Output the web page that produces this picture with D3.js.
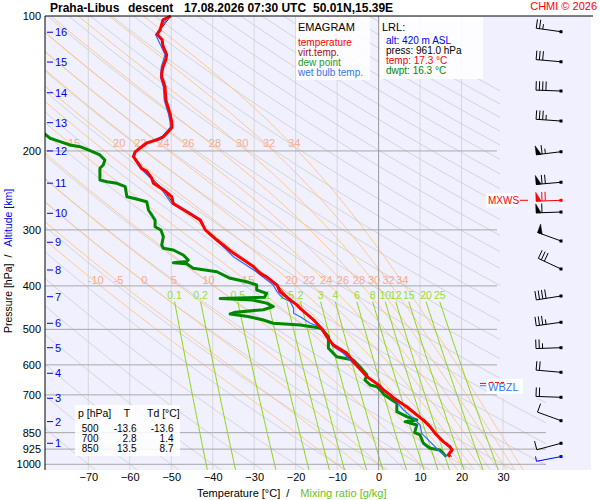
<!DOCTYPE html>
<html>
<head>
<meta charset="utf-8">
<script src="https://cdn.jsdelivr.net/npm/d3@7"></script>
<style>
body { margin: 0; background: #fff; }
svg { display: block; font-family: "Liberation Sans", Arial, sans-serif; }
</style>
</head>
<body>
<div id="vis"></div>
<script>
// ---- data ----
const pressureTicks = [100, 200, 300, 400, 500, 600, 700, 850, 925, 1000];
const tempTicks = [-70, -60, -50, -40, -30, -20, -10, 0, 10, 20, 30];
const altKm = [1, 2, 3, 4, 5, 6, 7, 8, 9, 10, 11, 12, 13, 14, 15, 16];
const altP = [897.7, 803, 712.4, 626.6, 549.4, 484.7, 422.8, 368.6, 319.7, 275.5, 236, 200, 173, 148.3, 126.7, 108.7];
const mixRatios = [0.1, 0.2, 0.5, 1, 1.5, 2, 3, 4, 6, 8, 10, 12, 15, 20, 25];
const thetaWLines = [-10, -5, 0, 5, 10, 15, 18, 20, 22, 24, 26, 28, 30, 32, 34];
const thetaWLower = [-10, -5, 0, 5, 10, 15, 20, 22, 24, 26, 28, 30, 32, 34];
const thetaWUpper = [15, 20, 22, 24, 26, 28, 30, 32, 34];

// [pressure hPa, value °C]
const temperature = [[100,-50.1],[102,-52.0],[107.5,-52.7],[110,-53.4],[113,-52.2],[117,-52.0],[119,-51.6],[122,-51.1],
  [125,-51.3],[130,-52.0],[134,-52.3],[137,-52.3],[139,-52.0],[144,-51.5],[154,-51.3],[165,-50.3],[172,-49.9],[177,-49.8],
  [181,-50.7],[186,-51.9],[189,-53.5],[192,-55.9],[197,-57.5],[201,-58.7],[206,-59.1],[211,-58.3],[219,-57.1],[222,-55.9],
  [230,-54.7],[236,-54.3],[244,-51.9],[253,-49.9],[262,-49.5],[273,-46.3],[285,-43.0],[300,-41.8],[316,-39.0],[338,-35.0],
  [362,-30.2],[375,-28.6],[382,-27.0],[395,-25.0],[398,-24.5],[412,-23.8],[430,-21.3],[441,-19.7],[449,-18.9],[476,-15.7],
  [500,-13.6],[519,-12.5],[542,-10.9],[565,-7.7],[595,-5.7],[638,-2.8],[665,0.0],[683,1.2],[700,2.8],[712,3.6],[744,6.8],
  [776,9.2],[797,10.8],[824,12.4],[850,13.5],[860,14.0],[890,15.6],[914,17.2],[929,17.7],[953,16.8],[961,17.3]];

const virtTemp = [[100,-50.1],[107.5,-52.7],[110,-53.4],[113,-52.2],[122,-51.1],[130,-52.0],[137,-52.3],[144,-51.5],
  [154,-51.3],[165,-50.3],[177,-49.8],[186,-51.9],[192,-55.9],[201,-58.7],[206,-59.1],[219,-57.1],[230,-54.7],[244,-51.9],
  [262,-49.5],[285,-43.0],[300,-41.8],[338,-35.0],[362,-30.2],[398,-24.5],[430,-21.2],[476,-15.6],[500,-13.5],
  [542,-10.8],[595,-5.6],[638,-2.6],[700,3.0],[744,7.0],[797,11.1],[850,13.8],[890,15.9],[914,17.5],[929,18.0],
  [953,17.1],[961,17.6]];

const dewPoint = [[180,-82],[182.7,-80.7],[187.4,-79.2],[190.7,-76.8],[194,-74.4],[195.7,-72.0],[199,-70.0],[204.2,-67.2],
  [209.5,-66.0],[215,-66.4],[218.6,-67.2],[232.2,-67.2],[234.2,-65.5],[236.2,-63.1],[240.3,-61.1],[253,-60.7],[255.1,-59.1],
  [259.6,-55.9],[270.9,-55.5],[285.1,-53.9],[295.1,-53.9],[300.2,-52.5],[310.7,-51.9],[324.2,-52.3],[329.7,-51.9],
  [332.6,-49.5],[341.3,-47.1],[350.2,-45.9],[353,-46.3],[355,-49.5],[357,-46.3],[365.4,-44.7],[371.9,-39.0],[384.7,-35.8],
  [391.5,-31.8],[398.1,-29.4],[408.5,-29.4],[415.5,-27.0],[424,-27.5],[427,-38.2],[430,-30.5],[437,-27.0],[445,-25.4],
  [452,-27.8],[458,-34.5],[462,-35.8],[468,-31.5],[476,-28.0],[484.7,-25.4],[489,-18.9],[495.8,-14.5],[500,-13.6],
  [519.3,-12.1],[551.1,-12.1],[575.4,-10.1],[585.2,-6.1],[605.7,-4.5],[632.1,-2.8],[648.5,-3.3],[665.4,-2.0],[671.2,-0.4],
  [682.7,0.4],[700,1.4],[731,4.4],[763,4.4],[783,6.8],[796.5,9.2],[803.4,6.4],[817.2,9.2],[850,8.7],[860,10.0],
  [897.7,10.8],[921,12.4],[929,14.8],[961,16.3]];

const wetBulb = [[100,-50.5],[107.5,-53.0],[110,-53.8],[117,-52.4],[122,-51.5],[130,-52.4],[137,-52.6],[144,-51.9],
  [154,-51.7],[165,-50.7],[172,-50.3],[177,-50.2],[181,-51.1],[186,-52.3],[192,-56.2],[201,-58.9],[206,-59.3],[219,-57.4],
  [230,-55.0],[244,-52.3],[262,-49.9],[285,-43.4],[302.8,-41.4],[332.6,-36.6],[344.3,-35.0],[356.2,-32.6],[371.9,-29.5],
  [398.1,-25.4],[412,-24.5],[419.1,-23.8],[426.3,-23.0],[433.8,-21.3],[448.7,-20.5],[460.4,-20.5],[468.5,-18.9],
  [484.7,-16.5],[493.2,-14.3],[500,-13.6],[528.1,-11.7],[546.6,-10.9],[565.4,-8.5],[590.4,-6.5],[605.7,-5.3],[654.2,-1.3],
  [665.4,0],[676.8,0.4],[712.4,3.6],[756.6,6.0],[789.6,8.4],[817.2,10.0],[852.8,10.4],[875,11.6],[905.6,13.2],
  [937.3,14.8],[961,16.4]];

const windP = [108.4, 126.5, 147, 171.5, 200.8, 234.9, 257.7, 273.7, 317.6, 366.7, 421.3, 482.2, 549.4, 623.4, 708.8, 799.3, 897.7, 961];
const windDir = [278, 275, 272, 274, 263, 265, 268, 268, 290, 295, 261, 262, 268, 275, 272, 290, 255, 259];
const windSpd = [25, 30, 40, 35, 65, 70, 70, 60, 50, 30, 40, 35, 25, 20, 20, 10, 10, 5];
const maxWindIndex = 6;

const tableP = [500, 700, 850];
const tableT = [-13.6, 2.8, 13.5];
const tableTd = [-13.6, 1.4, 8.7];

const zeroLevelP = [660, 668]; // ZL, WBZL

// ---- layout ----
const WIDTH = 600, HEIGHT = 500;
const PLOT = { left: 45, right: 591, top: 16, bottom: 470 };

const svg = d3.select("#vis").append("svg")
  .attr("width", WIDTH).attr("height", HEIGHT);

const X = d3.scaleLinear().domain([-70, 30]).range([88.3, 503]);
const Y = d3.scaleLog().domain([100, 1000]).range([16, 464.3]);
const pBot = Y.invert(PLOT.bottom);

const line = d3.line().x(d => X(d[1])).y(d => Y(d[0]));

svg.append("rect")
  .attr("x", PLOT.left).attr("y", PLOT.top)
  .attr("width", PLOT.right - PLOT.left).attr("height", PLOT.bottom - PLOT.top)
  .attr("fill", "#f0f0fe");

const defs = svg.append("defs");
defs.append("clipPath").attr("id", "diag").append("polygon")
  .attr("points", [[PLOT.left, PLOT.top], [500, PLOT.top], [500, 398], [546, 398], [546, PLOT.bottom], [PLOT.left, PLOT.bottom]].join(" "));

const grid = svg.append("g").attr("clip-path", "url(#diag)");

// isotherms
grid.selectAll(".iso").data(tempTicks.filter(t => t !== 0)).enter().append("line")
  .attr("x1", d => X(d)).attr("x2", d => X(d))
  .attr("y1", PLOT.top).attr("y2", PLOT.bottom)
  .attr("stroke", "#d8d8d8").attr("stroke-width", 1);

// dry adiabats
const pLevels = d3.range(100, pBot, 5).concat([pBot]);
const dryThetas = d3.range(-70, 260, 10);
grid.selectAll(".dry").data(dryThetas).enter().append("path")
  .attr("d", th => line(pLevels.map(p => [p, (th + 273.15) * Math.pow(p / 1000, 0.2857) - 273.15])))
  .attr("fill", "none").attr("stroke", "#cdcdcd").attr("stroke-width", 0.8);

// saturated adiabats
function dTdp(p, T) {
  const Tk = T + 273.15;
  const e = 6.112 * Math.exp(17.67 * T / (T + 243.5));
  const r = 0.622 * e / (p - e);
  const Lv = 2.501e6;
  return (287.04 * Tk + Lv * r) / (p * (1005.7 + Lv * Lv * r * 0.622 / (287.04 * Tk * Tk)));
}
function moist(tw) {
  const run = (h, stop) => {
    const out = [];
    let p = 1000, T = tw;
    while (h < 0 ? p > stop : p < stop) {
      const k1 = dTdp(p, T), k2 = dTdp(p + h / 2, T + h / 2 * k1),
            k3 = dTdp(p + h / 2, T + h / 2 * k2), k4 = dTdp(p + h, T + h * k3);
      T += h / 6 * (k1 + 2 * k2 + 2 * k3 + k4);
      p += h;
      out.push([p, T]);
    }
    return out;
  };
  return run(2, pBot + 2).reverse().concat([[1000, tw]], run(-2, 100));
}
function tAt(pts, p) {
  const s = pts.slice().sort((a, b) => a[0] - b[0]);
  for (let i = 1; i < s.length; i++) {
    if (s[i][0] >= p) {
      const f = (p - s[i - 1][0]) / (s[i][0] - s[i - 1][0]);
      return s[i - 1][1] + f * (s[i][1] - s[i - 1][1]);
    }
  }
  return s[s.length - 1][1];
}
const moistLines = thetaWLines.map(tw => ({ tw, pts: moist(tw) }));
grid.selectAll(".moist").data(moistLines).enter().append("path")
  .attr("d", d => line(d.pts))
  .attr("fill", "none").attr("stroke", "#ffc47a").attr("stroke-width", 0.9);

// mixing ratio lines
const mixTop = 433.8;
function dewFromR(r, p) {
  const e = r * p / (622 + r);
  const g = Math.log(e / 6.112);
  return 243.5 * g / (17.67 - g);
}
const mixP = d3.range(mixTop, pBot, 5).concat([pBot]);
grid.selectAll(".mix").data(mixRatios).enter().append("path")
  .attr("d", r => line(mixP.map(p => [p, dewFromR(r, p)])))
  .attr("fill", "none").attr("stroke", "#8cd600").attr("stroke-width", 1);

// pressure lines
svg.selectAll(".pl").data(pressureTicks.filter(p => p > 100)).enter().append("line")
  .attr("x1", PLOT.left).attr("x2", d => d >= 850 ? 546 : 497)
  .attr("y1", d => Y(d)).attr("y2", d => Y(d))
  .attr("stroke", "#a8a8a8").attr("stroke-width", 1);

// 0 °C isotherm
svg.append("line")
  .attr("x1", X(0)).attr("x2", X(0)).attr("y1", PLOT.top).attr("y2", PLOT.bottom)
  .attr("stroke", "#999").attr("stroke-width", 1);

// saturated adiabat labels
const byTw = new Map(moistLines.map(d => [d.tw, d.pts]));
const labelG = svg.append("g").attr("font-size", 11).attr("fill", "#f5ab90").attr("text-anchor", "middle");
labelG.selectAll(".ml").data(thetaWLower).enter().append("text")
  .attr("x", tw => X(tAt(byTw.get(tw), 392))).attr("y", Y(400) - 2)
  .text(tw => tw);
labelG.selectAll(".mu").data(thetaWUpper).enter().append("text")
  .attr("x", tw => X(tAt(byTw.get(tw), 196))).attr("y", Y(200) - 4)
  .text(tw => tw);

// mixing ratio labels
svg.append("g").attr("font-size", 10.5).attr("fill", "#99dd33").attr("text-anchor", "middle")
  .selectAll("text").data(mixRatios).enter().append("text")
  .attr("x", r => X(dewFromR(r, mixTop))).attr("y", Y(mixTop) - 3)
  .text(r => r);

// profiles
const prof = svg.append("g").attr("fill", "none").attr("stroke-linejoin", "round");
prof.append("path").attr("d", line(dewPoint)).attr("stroke", "#008800").attr("stroke-width", 3);
prof.append("path").attr("d", line(virtTemp)).attr("stroke", "#a00000").attr("stroke-width", 1);
prof.append("path").attr("d", line(wetBulb)).attr("stroke", "#2f6fff").attr("stroke-width", 1.2);
prof.append("path").attr("d", line(temperature)).attr("stroke", "#ff0000").attr("stroke-width", 3);

// cover the dew point that runs past the left edge
svg.append("rect").attr("x", 0).attr("y", PLOT.top).attr("width", PLOT.left).attr("height", PLOT.bottom - PLOT.top).attr("fill", "#fff");

// axes frame
svg.append("line").attr("x1", PLOT.left).attr("x2", 593).attr("y1", PLOT.top).attr("y2", PLOT.top).attr("stroke", "#000");
svg.append("line").attr("x1", PLOT.left).attr("x2", PLOT.left).attr("y1", PLOT.top).attr("y2", PLOT.bottom).attr("stroke", "#000");

// left pressure axis
const yAxis = svg.append("g").attr("transform", "translate(" + PLOT.left + ",0)")
  .call(d3.axisLeft(Y).tickValues(pressureTicks).tickFormat(d3.format("d")).tickSize(0).tickPadding(4));
yAxis.select(".domain").remove();
yAxis.selectAll("text").attr("font-size", 11).attr("font-family", "Liberation Sans, Arial, sans-serif").attr("fill", "#000");

// bottom temperature axis
const xAxis = svg.append("g").attr("transform", "translate(0," + PLOT.bottom + ")")
  .call(d3.axisBottom(X).tickValues(tempTicks).tickSize(0).tickPadding(3));
xAxis.select(".domain").remove();
xAxis.selectAll("text").attr("font-size", 11).attr("font-family", "Liberation Sans, Arial, sans-serif").attr("fill", "#000");

// altitude labels
const km = svg.append("g").attr("fill", "#0000ee").attr("stroke", "#0000ee");
km.selectAll("line").data(altP).enter().append("line")
  .attr("x1", 47).attr("x2", 53).attr("y1", d => Y(d)).attr("y2", d => Y(d));
km.selectAll("text").data(altKm).enter().append("text")
  .attr("x", 55).attr("y", (d, i) => Y(altP[i]) + 4)
  .attr("stroke", "none").attr("font-size", 11).text(d => d);

// titles
const title = svg.append("text").attr("y", 12).attr("font-size", 12).attr("font-weight", "bold");
title.append("tspan").attr("x", 50).text("Praha-Libus");
title.append("tspan").attr("x", 128).text("descent");
title.append("tspan").attr("x", 184).text("17.08.2026 07:30 UTC");
title.append("tspan").attr("x", 313).text("50.01N,15.39E");
svg.append("text").attr("x", 597).attr("y", 10).attr("text-anchor", "end")
  .attr("font-size", 11).attr("fill", "#ff0000").text("CHMI © 2026");

const xt = svg.append("text").attr("x", 197).attr("y", 497).attr("font-size", 11);
xt.append("tspan").text("Temperature [°C]");
xt.append("tspan").attr("dx", 6).text("/");
xt.append("tspan").attr("dx", 11).attr("fill", "#66c21a").text("Mixing ratio [g/kg]");

const yt = svg.append("text").attr("transform", "translate(12,333) rotate(-90)").attr("font-size", 10.5);
yt.append("tspan").text("Pressure [hPa]");
yt.append("tspan").attr("dx", 6).text("/");
yt.append("tspan").attr("dx", 8).attr("fill", "#0000ee").text("Altitude [km]");

// legend box
svg.append("rect").attr("x", 296).attr("y", 17).attr("width", 74).attr("height", 63).attr("fill", "#fff").attr("opacity", 0.85);
svg.append("text").attr("x", 298).attr("y", 31).attr("font-size", 11).text("EMAGRAM");
const legendNames = ["temperature", "virt.temp.", "dew point", "wet bulb temp."];
const legendColors = ["#ff0000", "#a01010", "#1f9a1f", "#3377ee"];
svg.selectAll(".leg").data(legendNames).enter().append("text")
  .attr("x", 298).attr("y", (d, i) => 46 + i * 10).attr("font-size", 10)
  .attr("fill", (d, i) => legendColors[i]).text(d => d);

// LRL box
svg.append("rect").attr("x", 380).attr("y", 17).attr("width", 103).attr("height", 62).attr("fill", "#fff").attr("opacity", 0.85);
svg.append("text").attr("x", 382).attr("y", 31).attr("font-size", 11).text("LRL:");
const lrlText = ["alt: 420 m ASL", "press: 961.0 hPa", "temp: 17.3 °C", "dwpt: 16.3 °C"];
const lrlColors = ["#0000ff", "#000", "#ff0000", "#008800"];
svg.selectAll(".lrl").data(lrlText).enter().append("text")
  .attr("x", 386).attr("y", (d, i) => 44 + i * 10).attr("font-size", 10)
  .attr("fill", (d, i) => lrlColors[i]).text(d => d);

// summary table
svg.append("rect").attr("x", 75).attr("y", 405).attr("width", 105).attr("height", 51).attr("fill", "#fff").attr("opacity", 0.85);
const th = svg.append("g").attr("font-size", 10.5);
th.append("text").attr("x", 78).attr("y", 417).text("p [hPa]");
th.append("text").attr("x", 127).attr("y", 417).attr("text-anchor", "middle").text("T");
th.append("text").attr("x", 147).attr("y", 417).text("Td [°C]");
const tb = svg.append("g").attr("font-size", 10).attr("text-anchor", "end");
tableP.forEach((p, i) => {
  const yy = 432 + i * 10;
  tb.append("text").attr("x", 98.5).attr("y", yy).text(p);
  tb.append("text").attr("x", 136.5).attr("y", yy).text(tableT[i].toFixed(1));
  tb.append("text").attr("x", 173.5).attr("y", yy).text(tableTd[i].toFixed(1));
});

// zero level markers (the ZL label is mostly hidden under the WBZL box)
const zlY = Y(zeroLevelP[0]), wbY = Y(zeroLevelP[1]);
svg.append("line").attr("x1", 480).attr("x2", 486).attr("y1", zlY).attr("y2", zlY).attr("stroke", "#ff0000");
svg.append("rect").attr("x", 487).attr("y", wbY - 7).attr("width", 36).attr("height", 15).attr("fill", "#fff").attr("opacity", 0.95);
svg.append("line").attr("x1", 489).attr("x2", 504).attr("y1", zlY - 1).attr("y2", zlY - 1)
  .attr("stroke", "#ff0000").attr("stroke-dasharray", "4,2");
svg.append("line").attr("x1", 480).attr("x2", 486).attr("y1", wbY).attr("y2", wbY).attr("stroke", "#3377ee");
svg.append("text").attr("x", 488).attr("y", wbY + 5).attr("font-size", 11).attr("fill", "#3377ee").text("WBZL");

// max wind label
const mxY = Y(windP[maxWindIndex]);
svg.append("rect").attr("x", 486).attr("y", mxY - 7).attr("width", 32).attr("height", 14).attr("fill", "#fff").attr("opacity", 0.95);
svg.append("text").attr("x", 488).attr("y", mxY + 4).attr("font-size", 10).attr("fill", "#ff0000").text("MXWS");
svg.append("line").attr("x1", 520).attr("x2", 528).attr("y1", mxY).attr("y2", mxY).attr("stroke", "#ff0000");

// wind barbs
const BX = 561, STAFF = 25;
windP.forEach((p, i) => {
  const col = i === maxWindIndex ? "#ff0000" : (i === windP.length - 1 ? "#0000ff" : "#000");
  const y0 = Y(p);
  const a = windDir[i] * Math.PI / 180;
  const ux = Math.sin(a), uy = -Math.cos(a);
  const vx = -uy, vy = ux;
  const g = svg.append("g").attr("stroke", col).attr("fill", col).attr("stroke-width", 1);
  const at = d => [BX + ux * d, y0 + uy * d];
  g.append("line").attr("x1", BX).attr("y1", y0).attr("x2", at(STAFF)[0]).attr("y2", at(STAFF)[1]);
  let s = windSpd[i], d = STAFF;
  const pennants = Math.floor(s / 50); s -= pennants * 50;
  const full = Math.floor(s / 10); s -= full * 10;
  const half = s >= 5 ? 1 : 0;
  for (let k = 0; k < pennants; k++) {
    const a0 = at(d), a1 = at(d - 5);
    g.append("polygon").attr("stroke-width", 0.5)
      .attr("points", [a0, [a0[0] + vx * 9, a0[1] + vy * 9], a1].join(" "));
    d -= 6;
  }
  for (let k = 0; k < full; k++) {
    const a0 = at(d);
    g.append("line").attr("x1", a0[0]).attr("y1", a0[1]).attr("x2", a0[0] + vx * 9).attr("y2", a0[1] + vy * 9);
    d -= 3.3;
  }
  if (half) {
    const a0 = at(d);
    g.append("line").attr("x1", a0[0]).attr("y1", a0[1]).attr("x2", a0[0] + vx * 5).attr("y2", a0[1] + vy * 5);
  }
  g.append("rect").attr("x", BX - 1.5).attr("y", y0 - 1.5).attr("width", 3).attr("height", 3).attr("stroke", "none");
});
</script>
</body>
</html>
